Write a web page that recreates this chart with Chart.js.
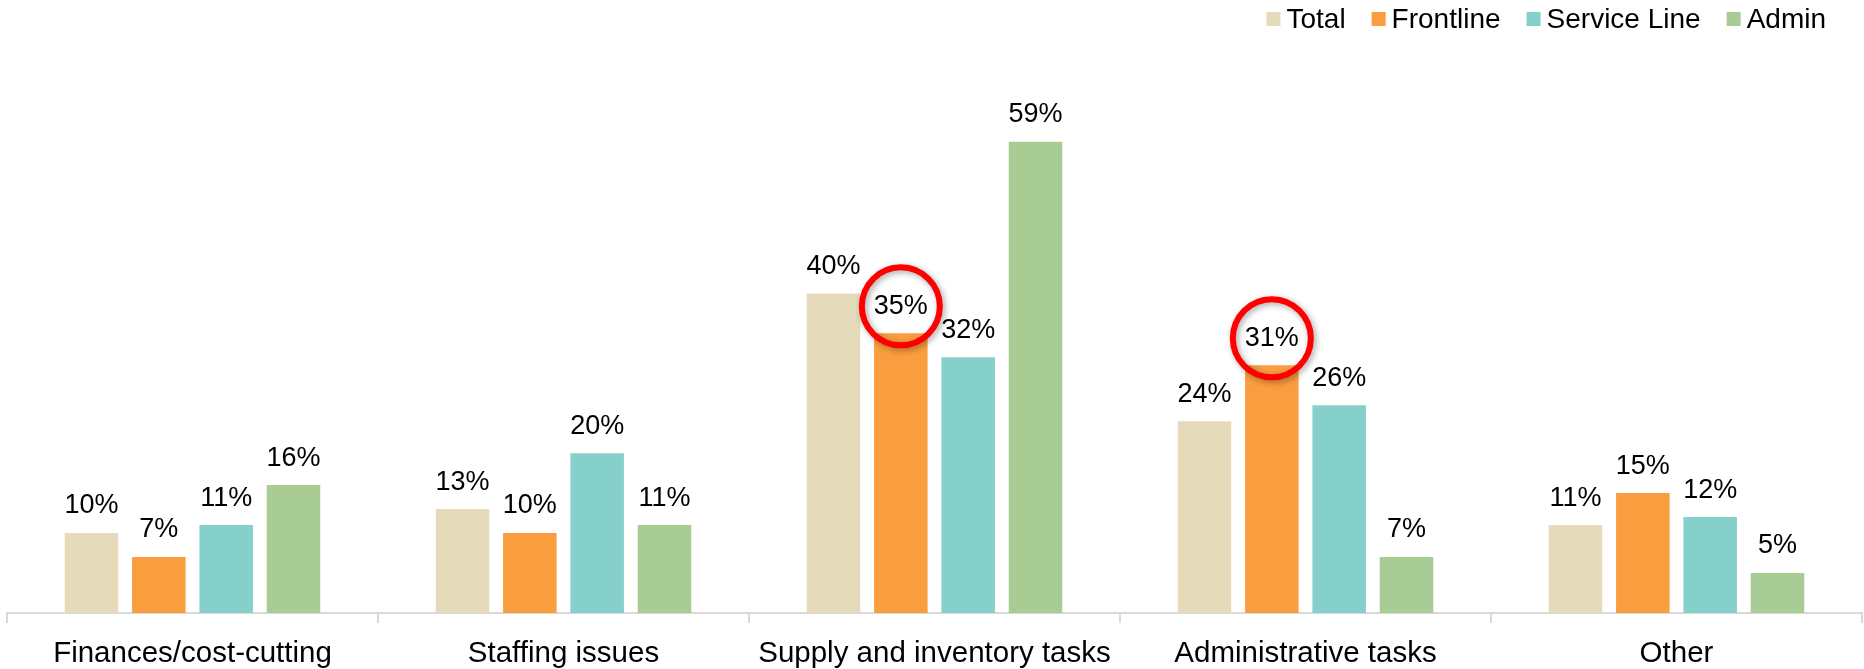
<!DOCTYPE html>
<html>
<head>
<meta charset="utf-8">
<script src="https://cdn.jsdelivr.net/npm/chart.js@4"></script>
<style>
  html, body { margin: 0; padding: 0; background: #fff; }
  #wrap { width: 1864px; height: 669px; position: relative; }
</style>
</head>
<body>
<div id="wrap"><canvas id="c"></canvas></div>
<script>
// values (percent)
const categories = ['Finances/cost-cutting', 'Staffing issues', 'Supply and inventory tasks', 'Administrative tasks', 'Other'];
const seriesNames = ['Total', 'Frontline', 'Service Line', 'Admin'];
const total = [10, 13, 40, 24, 11];
const frontline = [7, 10, 35, 31, 15];
const serviceLine = [11, 20, 32, 26, 12];
const admin = [16, 11, 59, 7, 5];
// [dataset index, category index] of the labels circled in red
const circled = [[1, 2], [1, 3]];

const colors = ['#E5DBBA', '#F99D3F', '#86D0CB', '#A9CC95'];
const font = 'Liberation Sans, Arial, sans-serif';

// value labels on top of each bar, plus the red highlight rings
const barLabels = {
    id: 'barLabels',
    afterDatasetsDraw(chart) {
        const { ctx } = chart;
        ctx.save();
        ctx.font = '27px ' + font;
        ctx.fillStyle = '#000';
        ctx.textAlign = 'center';
        ctx.textBaseline = 'middle';
        chart.data.datasets.forEach((ds, i) => {
            chart.getDatasetMeta(i).data.forEach((bar, j) => {
                ctx.fillText(ds.data[j] + '%', bar.x, bar.y - 27);
            });
        });
        circled.forEach(([i, j]) => {
            const bar = chart.getDatasetMeta(i).data[j];
            ctx.save();
            ctx.shadowColor = 'rgba(0,0,0,0.35)';
            ctx.shadowBlur = 6;
            ctx.shadowOffsetX = 2;
            ctx.shadowOffsetY = 2;
            ctx.strokeStyle = '#FF0000';
            ctx.lineWidth = 6;
            ctx.beginPath();
            ctx.arc(bar.x, bar.y - 27, 39, 0, Math.PI * 2);
            ctx.stroke();
            ctx.restore();
        });
        ctx.restore();
    }
};

// legend top right, tighter box/text gap than the built-in one
const topLegend = {
    id: 'topLegend',
    afterDraw(chart) {
        const { ctx } = chart;
        ctx.save();
        ctx.font = '28px ' + font;
        ctx.textBaseline = 'middle';
        ctx.textAlign = 'left';
        const cy = 19;
        let x = 1826;
        for (let i = chart.data.datasets.length - 1; i >= 0; i--) {
            const ds = chart.data.datasets[i];
            const tw = ctx.measureText(ds.label).width;
            const tx = x - tw;
            ctx.fillStyle = '#000';
            ctx.fillText(ds.label, tx, cy + 1);
            ctx.fillStyle = ds.backgroundColor;
            ctx.fillRect(tx - 6 - 14, cy - 7, 14, 14);
            x = tx - 6 - 14 - 26;
        }
        ctx.restore();
    }
};

new Chart(document.getElementById('c'), {
    type: 'bar',
    data: {
        labels: categories,
        datasets: [total, frontline, serviceLine, admin].map((d, i) => ({
            label: seriesNames[i],
            data: d,
            backgroundColor: colors[i],
            categoryPercentage: 0.726,
            barPercentage: 0.795
        }))
    },
    options: {
        responsive: true,
        maintainAspectRatio: false,
        animation: false,
        layout: { padding: { left: 7, right: 2, top: 57, bottom: -16 } },
        plugins: {
            legend: { display: false },
            tooltip: { enabled: false }
        },
        scales: {
            x: {
                grid: {
                    offset: true,
                    drawOnChartArea: false,
                    color: '#D9D9D9',
                    lineWidth: 2,
                    tickLength: 10
                },
                border: { color: '#D9D9D9', width: 2 },
                ticks: {
                    color: '#000',
                    padding: 16,
                    maxRotation: 0,
                    font: { family: font, size: 29.5, lineHeight: 1.02 }
                }
            },
            y: {
                display: false,
                min: 0,
                max: 69.6
            }
        }
    },
    plugins: [barLabels, topLegend]
});
</script>
</body>
</html>
